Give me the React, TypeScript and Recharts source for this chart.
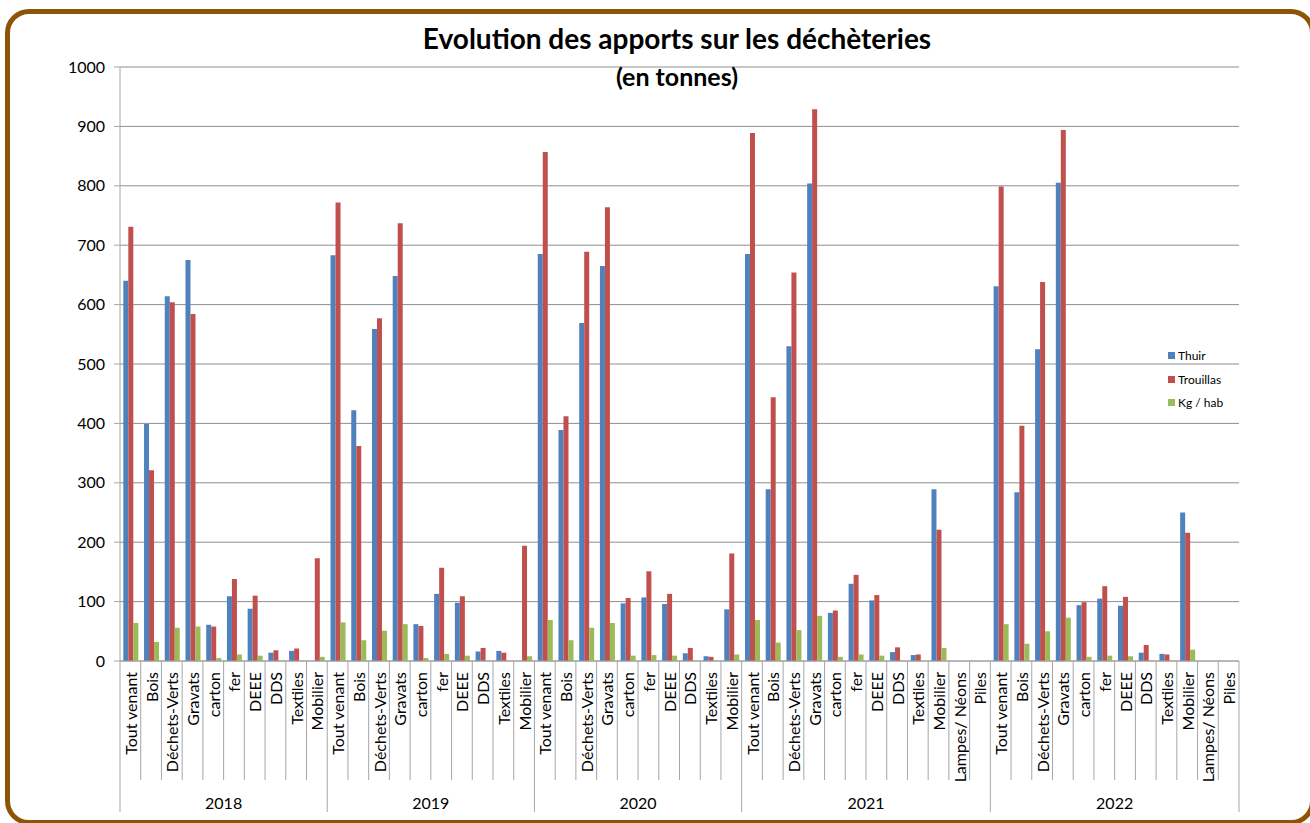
import { BarChart, Bar, XAxis, YAxis, CartesianGrid, Legend } from 'recharts';

/* ── Data ── */
const years = ['2018', '2019', '2020', '2021', '2022'];
const baseTypes = ['Tout venant', 'Bois', 'Déchets-Verts', 'Gravats', 'carton', 'fer', 'DEEE', 'DDS', 'Textiles', 'Mobilier'];
const extraTypes = ['Lampes/ Néons', 'Piles'];
const typesByYear = [baseTypes, baseTypes, baseTypes, [...baseTypes, ...extraTypes], [...baseTypes, ...extraTypes]];
const seriesNames = ['Thuir', 'Trouillas', 'Kg / hab'];

const thuir = [
  640, 399, 614, 675, 61, 109, 88, 14, 17, 0,
  683, 422, 559, 648, 62, 113, 98, 16, 17, 0,
  685, 389, 569, 665, 97, 107, 96, 13, 8, 87,
  685, 289, 530, 804, 81, 130, 102, 15, 10, 289, 0, 0,
  631, 284, 525, 805, 94, 105, 93, 14, 12, 250, 0, 0,
];
const trouillas = [
  731, 321, 604, 584, 58, 138, 110, 18, 21, 173,
  772, 362, 577, 737, 59, 157, 109, 22, 14, 194,
  857, 412, 689, 764, 106, 151, 113, 22, 7, 181,
  889, 444, 654, 929, 85, 145, 111, 23, 11, 221, 0, 0,
  799, 396, 638, 894, 99, 126, 108, 27, 11, 216, 0, 0,
];
const kgHab = [
  64, 32, 56, 58, 5, 11, 9, 0.5, 0.3, 7,
  65, 35, 51, 62, 5, 12, 9, 0.5, 0.3, 8,
  69, 35, 56, 64, 9, 10, 9, 0.5, 0.2, 11,
  69, 31, 52, 76, 7, 11, 9, 0.5, 0.2, 22, 0, 0,
  62, 29, 50, 73, 7, 9, 8, 0.5, 0.2, 19, 0, 0,
];
const yTicks = [0, 100, 200, 300, 400, 500, 600, 700, 800, 900, 1000];

const rows = years.flatMap((year, yi) =>
  typesByYear[yi].map((type) => ({ id: `${year}|${type}`, year, type })),
).map((r, i) => ({ ...r, thuir: thuir[i], trouillas: trouillas[i], kg: kgHab[i] }));

/* ── Layout ── */
const W = 1310;
const H = 823;
const MARGIN = { top: 67, right: 71, left: 60, bottom: 12 };
const Y_WIDTH = 60;
const PLOT_W = W - MARGIN.left - MARGIN.right - Y_WIDTH;
const BAND = PLOT_W / rows.length;
const AXIS = '#a6a6a6';
const FONT = 'Lato, "Open Sans", sans-serif';

function CategoryTick({ x, y, index }: any) {
  const row = rows[index];
  const half = BAND / 2;
  const first = index === 0 || rows[index - 1].year !== row.year;
  const last = index === rows.length - 1;
  const groupLen = rows.filter((r) => r.year === row.year).length;
  return (
    <g>
      <line x1={x - half} x2={x - half} y1={y} y2={y + (first ? 151 : 119)} stroke={AXIS} />
      {last && <line x1={x + half} x2={x + half} y1={y} y2={y + 151} stroke={AXIS} />}
      <text
        transform={`translate(${x},${y + 11}) rotate(-90)`}
        textAnchor="end"
        dominantBaseline="central"
        fontSize={16}
        fontFamily={FONT}
        fill="#000"
      >
        {row.type}
      </text>
      {first && (
        <text
          x={x - half + (groupLen * BAND) / 2}
          y={y + 141}
          textAnchor="middle"
          dominantBaseline="central"
          fontSize={16}
          fontFamily={FONT}
          fill="#000"
        >
          {row.year}
        </text>
      )}
    </g>
  );
}

function LegendBox({ payload }: any) {
  const items = seriesNames
    .map((n) => (payload || []).find((p: any) => p.value === n))
    .filter(Boolean);
  return (
    <div style={{ fontFamily: FONT, fontSize: 12, color: '#000' }}>
      {items.map((p: any) => (
        <div key={p.value} style={{ display: 'flex', alignItems: 'center', height: 23.5 }}>
          <span style={{ width: 7, height: 7, background: p.color, marginRight: 3, display: 'inline-block' }} />
          {p.value}
        </div>
      ))}
    </div>
  );
}

export default function App() {
  return (
    <div style={{ position: 'relative', width: W, height: H, overflow: 'hidden', background: '#fff' }}>
      <style>{'body{margin:0}'}</style>
      <div
        style={{
          position: 'absolute', left: 5, top: 9, width: 1310, height: 816,
          border: '5px solid #8c5504', borderRadius: 24, boxSizing: 'border-box',
        }}
      />
      <BarChart
        width={W}
        height={H}
        data={rows}
        margin={MARGIN}
        barCategoryGap="16%"
        barGap={0}
        style={{ position: 'absolute', left: 0, top: 0 }}
      >
        <CartesianGrid vertical={false} stroke="#8f8f8f" />
        <XAxis
          dataKey="id"
          interval={0}
          height={150}
          tickSize={0}
          tickMargin={0}
          tickLine={false}
          axisLine={{ stroke: AXIS }}
          tick={<CategoryTick />}
        />
        <YAxis
          domain={[0, 1000]}
          ticks={yTicks}
          width={Y_WIDTH}
          tickSize={6}
          tickMargin={9}
          axisLine={{ stroke: AXIS }}
          tickLine={{ stroke: AXIS }}
          tick={{ fill: '#000', fontSize: 16, fontFamily: FONT }}
        />
        <Legend
          layout="horizontal"
          verticalAlign="middle"
          align="center"
          content={<LegendBox />}
          wrapperStyle={{ left: 1168, top: 344, width: 100 }}
        />
        <Bar dataKey="thuir" name="Thuir" fill="#4f81bd" isAnimationActive={false} />
        <Bar dataKey="trouillas" name="Trouillas" fill="#c0504d" isAnimationActive={false} />
        <Bar dataKey="kg" name="Kg / hab" fill="#9bbb59" isAnimationActive={false} />
      </BarChart>
      <div
        style={{
          position: 'absolute', left: 44, width: 1266, top: 21, textAlign: 'center',
          fontFamily: FONT, fontWeight: 700, fontSize: 28, color: '#000', lineHeight: '34px',
        }}
      >
        Evolution des apports sur les déchèteries
      </div>
      <div
        style={{
          position: 'absolute', left: 44, width: 1266, top: 60, textAlign: 'center',
          fontFamily: FONT, fontWeight: 700, fontSize: 25, color: '#000', lineHeight: '32px',
        }}
      >
        (en tonnes)
      </div>
    </div>
  );
}
